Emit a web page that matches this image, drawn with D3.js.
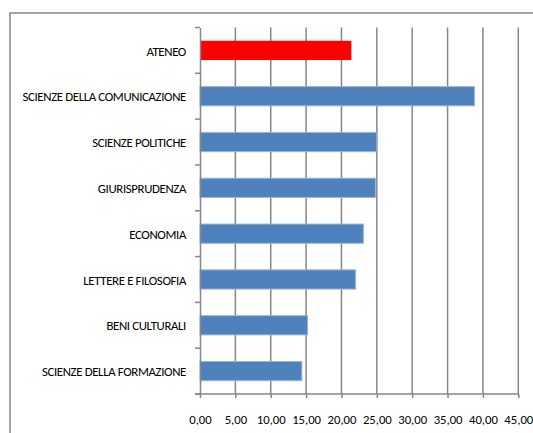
<!DOCTYPE html>
<html>
<head>
<meta charset="utf-8">
<script src="https://cdn.jsdelivr.net/npm/d3@7"></script>
<style>
  body { margin: 0; background: #fff; }
  svg text { font-family: Carlito, Lato, sans-serif; fill: #000; }
</style>
</head>
<body>
<svg id="chart" width="533" height="433"></svg>
<script>
// categories, top to bottom
const categories = ["ATENEO", "SCIENZE DELLA COMUNICAZIONE", "SCIENZE POLITICHE", "GIURISPRUDENZA",
  "ECONOMIA", "LETTERE E FILOSOFIA", "BENI CULTURALI", "SCIENZE DELLA FORMAZIONE"];
const values = [21.4, 38.8, 25.0, 24.8, 23.1, 22.0, 15.2, 14.4];
const tickValues = [0, 5, 10, 15, 20, 25, 30, 35, 40, 45];

let svg = d3.select("svg#chart");

// outer frame (runs off the right and bottom edges)
svg.append("rect")
  .attr("x", 10).attr("y", 13)
  .attr("width", 540).attr("height", 440)
  .attr("fill", "none")
  .attr("stroke", "#868686")
  .attr("stroke-width", 1.5);

let x = d3.scaleLinear().domain([0, 45]).range([200, 518.3]);
let y = d3.scaleBand().domain(categories).range([27.5, 394]).paddingInner(0.58).paddingOuter(0.29);
let band = d3.scaleBand().domain(categories).range([27.5, 394]);

// vertical gridlines
svg.append("g")
  .selectAll("line")
  .data(tickValues.slice(1))
  .join("line")
  .attr("x1", d => x(d)).attr("x2", d => x(d))
  .attr("y1", 27.5).attr("y2", 394)
  .attr("stroke", "#868686")
  .attr("stroke-width", 1.5);

// bars
svg.append("g")
  .selectAll("rect")
  .data(categories)
  .join("rect")
  .attr("x", x(0))
  .attr("y", d => y(d))
  .attr("width", (d, i) => x(values[i]) - x(0))
  .attr("height", y.bandwidth())
  .attr("fill", (d, i) => i == 0 ? "#ff0000" : "#4f81bd")
  .attr("stroke", (d, i) => i == 0 ? "none" : "#9ab5da")
  .attr("stroke-width", 1);

// category axis
let yAxis = d3.axisLeft(band).tickSize(0).tickPadding(14);
let yg = svg.append("g").attr("transform", "translate(200,0)").call(yAxis);
yg.select(".domain").attr("stroke", "#868686").attr("stroke-width", 1.5);
yg.selectAll("text")
  .attr("font-size", 12.8)
  .attr("letter-spacing", -0.35)
  .attr("dy", "0.4em");
// tick marks at band boundaries
yg.append("g")
  .selectAll("line")
  .data(categories.concat([null]))
  .join("line")
  .attr("x1", -5).attr("x2", 0)
  .attr("y1", (d, i) => 27.5 + i * band.step())
  .attr("y2", (d, i) => 27.5 + i * band.step())
  .attr("stroke", "#868686")
  .attr("stroke-width", 1.5);

// value axis
let xAxis = d3.axisBottom(x)
  .tickValues(tickValues)
  .tickSize(4)
  .tickPadding(17)
  .tickFormat(d => d3.format(".2f")(d).replace(".", ","));
let xg = svg.append("g").attr("transform", "translate(0,394)").call(xAxis);
xg.select(".domain").attr("d", "M195,0H518.3").attr("stroke", "#868686").attr("stroke-width", 1.5);
xg.selectAll(".tick line").attr("stroke", "#868686").attr("stroke-width", 1.5);
xg.selectAll("text").attr("font-size", 12.7);
</script>
</body>
</html>
